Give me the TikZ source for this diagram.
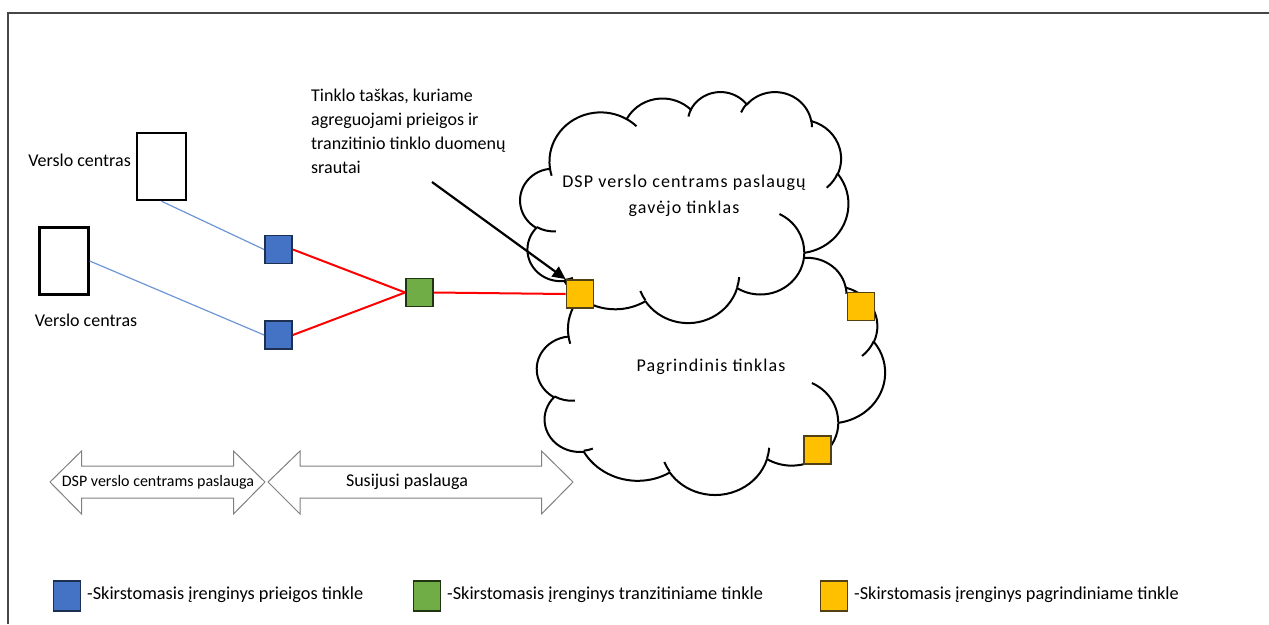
\documentclass[tikz,border=0pt]{standalone}
\usepackage{fontspec}
\setmainfont{Carlito}
\usepackage{tikz}
\usetikzlibrary{arrows.meta}

\definecolor{paBlue}{RGB}{68,114,196}
\definecolor{paBlueDark}{RGB}{30,48,82}
\definecolor{trGreen}{RGB}{112,173,71}
\definecolor{trGreenDark}{RGB}{32,52,20}
\definecolor{pgYellow}{RGB}{255,192,0}
\definecolor{pgYellowDark}{RGB}{80,64,20}
\definecolor{linkBlue}{RGB}{110,150,215}
\definecolor{frameGray}{RGB}{70,70,70}

% cloud outline (Office style), drawn in a 43.2 x 43.2 box
\newcommand{\netcloud}[3]{%
  \begin{scope}[shift={#1}, x=#2, y=#3]
    \filldraw[cloudLine, fill=white] (3.900,14.370)
      arc[start angle=-187.747, end angle=-59.634, x radius=6.753, y radius=9.190]
      arc[start angle=-152.033, end angle=-45.446, x radius=5.333, y radius=7.267]
      arc[start angle=-153.496, end angle=-37.342, x radius=4.365, y radius=5.945]
      arc[start angle=-139.720, end angle=-10.211, x radius=4.857, y radius=6.595]
      arc[start angle=-74.774, end angle=23.213, x radius=5.333, y radius=7.273]
      arc[start angle=-37.519, end angle=81.860, x radius=6.775, y radius=9.220]
      arc[start angle=0.460, end angle=121.980, x radius=5.785, y radius=7.867]
      arc[start angle=16.842, end angle=146.238, x radius=6.752, y radius=9.215]
      arc[start angle=58.984, end angle=150.180, x radius=7.720, y radius=10.543]
      arc[start angle=83.300, end angle=223.109, x radius=4.360, y radius=5.918]
      arc[start angle=120.360, end angle=264.109, x radius=4.345, y radius=5.945]
      -- cycle;
    \draw[cloudLine]
      (4.693,26.177) arc[start angle=85.544, end angle=120.360, x radius=4.345, y radius=5.945]
      (6.928,34.899) arc[start angle=68.232, end angle=83.300, x radius=4.360, y radius=5.918]
      (16.478,39.090) arc[start angle=146.238, end angle=158.480, x radius=6.752, y radius=9.215]
      (28.827,34.751) arc[start angle=4.738, end angle=16.842, x radius=6.752, y radius=9.215]
      (34.129,22.954) arc[start angle=-64.000, end angle=0.460, x radius=5.785, y radius=7.867]
      (41.798,15.354) arc[start angle=23.213, end angle=49.660, x radius=5.333, y radius=7.273]
      (38.324,5.426) arc[start angle=-10.211, end angle=0.821, x radius=4.857, y radius=6.595]
      (29.078,3.952) arc[start angle=-156.280, end angle=-139.720, x radius=4.857, y radius=6.595]
      (22.141,4.720) arc[start angle=-167.724, end angle=-153.496, x radius=4.365, y radius=5.945]
      (14.000,5.192) arc[start angle=-59.634, end angle=-45.740, x radius=6.753, y radius=9.190]
      (4.127,15.789) arc[start angle=163.190, end angle=172.253, x radius=6.753, y radius=9.190];
  \end{scope}}

\begin{document}
\begin{tikzpicture}[x=1pt, y=-1pt,
        txt/.style = {inner sep=0pt,
            font=\fontsize{18}{24}\selectfont},
        cloudTxt/.style = {inner sep=0pt,
            font=\fontsize{18}{26}\selectfont\addfontfeatures{LetterSpace=6}},
        smallTxt/.style = {inner sep=0pt,
            font=\fontsize{16}{19}\selectfont},
        legendTxt/.style = {inner sep=0pt, anchor=west,
            font=\fontsize{18.3}{22}\selectfont},
        vcBox/.style = {draw, line width=2.4pt,
            minimum width=49pt, minimum height=67pt},
        devSquare/.style = {draw, line width=1.8pt,
            minimum width=27pt, minimum height=28pt},
        paDev/.style = {devSquare, fill=paBlue, draw=paBlueDark},
        trDev/.style = {devSquare, fill=trGreen, draw=trGreenDark},
        pgDev/.style = {devSquare, fill=pgYellow, draw=pgYellowDark},
        cloudLine/.style = {line width=2pt, line join=round},
        blueLink/.style = {linkBlue, line width=1.2pt},
        redLink/.style = {red, line width=2pt},
        svcArrow/.style = {draw=gray, line width=1pt, fill=white},
        frameLine/.style = {frameGray, line width=2pt}]

        \useasboundingbox (0,0) rectangle (1269,624);

        % Frame
        \draw[frameLine] (8,624) -- (8,13) -- (1269,13);

        % Clouds
        \netcloud{(537,257)}{8.056pt}{-5.49pt}
        \netcloud{(520.3,91.3)}{7.593pt}{-5.347pt}
        \node[cloudTxt, align=center] (gavejas) at (684,196)
            {DSP verslo centrams paslaugų\\gavėjo tinklas};
        \node[cloudTxt] (pagr) at (711,367) {Pagrindinis tinklas};

        % Business centres
        \node[vcBox] (vc1) at (161.5,166.5) {};
        \node[vcBox] (vc2) at (64,261) {};
        \node[txt, anchor=east] (vc1Label) at (131,160) {Verslo centras};
        \node[txt] (vc2Label) at (86,320) {Verslo centras};

        % Devices
        \node[paDev] (pa1) at (278.5,249.5) {};
        \node[paDev] (pa2) at (278.5,335) {};
        \node[trDev] (tr) at (419.5,292.5) {};
        \node[pgDev] (pg1) at (580,294) {};
        \node[pgDev] (pg2) at (861,306.5) {};
        \node[pgDev] (pg3) at (817.5,450) {};

        % Links
        \draw[blueLink] (vc1.south) -- (pa1.west);
        \draw[blueLink] (vc2.east) -- (pa2.west);
        \draw[redLink] (pa1.east) -- (tr.west);
        \draw[redLink] (pa2.east) -- (tr.west);
        \draw[redLink] (tr.east) -- (pg1.west);

        % Aggregation point note
        \node[txt, align=left, anchor=north west] (note) at (311,89)
            {Tinklo taškas, kuriame\\agreguojami prieigos ir\\tranzitinio tinklo duomenų\\srautai};
        \coordinate (noteEnd) at (432,182);
        \draw[line width=2.2pt, -{Triangle[length=13pt,width=12pt]}]
            (noteEnd) -- (pg1.north west);

        % Service arrows
        \draw[svcArrow] (50,482) -- (81.5,451) -- (81.5,466) -- (233.5,466)
            -- (233.5,451) -- (265,482) -- (233.5,514) -- (233.5,498)
            -- (81.5,498) -- (81.5,514) -- cycle;
        \draw[svcArrow] (268,482) -- (300,451) -- (300,466) -- (541.5,466)
            -- (541.5,451) -- (573,482) -- (541.5,514) -- (541.5,498)
            -- (300,498) -- (300,514) -- cycle;
        \node[smallTxt] (svcDsp) at (158,482) {DSP verslo centrams paslauga};
        \node[txt] (svcSus) at (407,482) {Susijusi paslauga};

        % Legend
        \node[paDev, minimum height=30pt] (lgPa) at (67,596) {};
        \node[trDev, minimum height=30pt] (lgTr) at (427,596) {};
        \node[pgDev, minimum height=30pt] (lgPg) at (834,596) {};
        \node[legendTxt] (lgPaText) at (87,595) {-Skirstomasis įrenginys prieigos tinkle};
        \node[legendTxt] (lgTrText) at (447,595) {-Skirstomasis įrenginys tranzitiniame tinkle};
        \node[legendTxt] (lgPgText) at (854,595) {-Skirstomasis įrenginys pagrindiniame tinkle};
\end{tikzpicture}
\end{document}
